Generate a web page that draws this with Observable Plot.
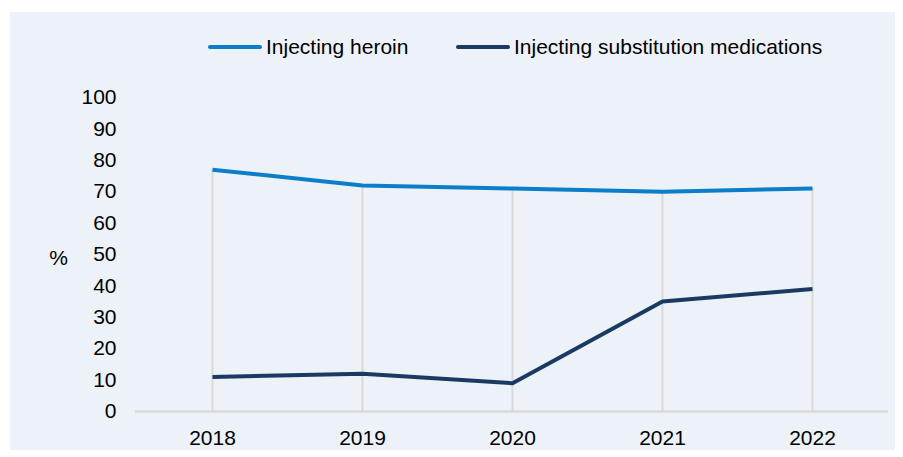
<!DOCTYPE html>
<html><head><meta charset="utf-8">
<script src="https://cdn.jsdelivr.net/npm/d3@7"></script>
<script src="https://cdn.jsdelivr.net/npm/@observablehq/plot@0.6"></script>
<style>
body{margin:0;background:#fff;font-family:"Liberation Sans",Arial,sans-serif;}
#panel{position:absolute;left:10px;top:12px;width:885px;height:438px;background:#edf1f8;}
#legend{position:absolute;left:0;top:0;width:885px;height:70px;}
.item{position:absolute;top:23px;height:24px;display:flex;align-items:center;font-size:21px;color:#000;white-space:nowrap;}
.sw{width:54px;height:4px;border-radius:2px;margin-right:4px;}
#chart{position:absolute;left:0;top:70px;}
</style></head><body>
<div id="panel"><div id="legend"></div><div id="chart"></div></div>
<script>
const years = ["2018", "2019", "2020", "2021", "2022"];
const heroin = [77, 72, 71, 70, 71];
const substitution = [11, 12, 9, 35, 39];
const seriesNames = ["Injecting heroin", "Injecting substitution medications"];
const seriesColors = ["#0a7ec8", "#1a3a63"];
const yTicks = [0, 10, 20, 30, 40, 50, 60, 70, 80, 90, 100];
const yLabel = "%";

const rows = years.flatMap((yr, i) => [
  {year: yr, value: heroin[i], series: seriesNames[0]},
  {year: yr, value: substitution[i], series: seriesNames[1]}
]);
const drops = years.map((yr, i) => ({year: yr, top: Math.max(heroin[i], substitution[i])}));

// legend
const legend = document.getElementById("legend");
const legendLefts = [198, 446];
seriesNames.forEach((name, i) => {
  const it = document.createElement("div");
  it.className = "item";
  it.style.left = legendLefts[i] + "px";
  const sw = document.createElement("span");
  sw.className = "sw";
  sw.style.background = seriesColors[i];
  const tx = document.createElement("span");
  tx.textContent = name;
  it.appendChild(sw); it.appendChild(tx);
  legend.appendChild(it);
});

const chart = Plot.plot({
  width: 885,
  height: 368,
  marginLeft: 125,
  marginRight: 7,
  marginTop: 15,
  marginBottom: 39,
  style: {background: "transparent", fontFamily: "'Liberation Sans', Arial, sans-serif", fontSize: "21px", color: "#000"},
  x: {type: "point", domain: years, padding: 0.5, label: null, tickSize: 0, tickPadding: 19},
  y: {domain: [0, 100], ticks: yTicks, label: null, tickSize: 0, tickPadding: 19},
  color: {domain: seriesNames, range: seriesColors},
  marks: [
    Plot.ruleX(drops, {x: "year", y1: 0, y2: "top", stroke: "#d9d9d9", strokeWidth: 2}),
    Plot.ruleY([0], {stroke: "#d9d9d9", strokeWidth: 2.5}),
    Plot.line(rows, {x: "year", y: "value", z: "series", stroke: "series", strokeWidth: 4, strokeLinecap: "butt", strokeLinejoin: "round"}),
    Plot.text([yLabel], {frameAnchor: "left", dx: -77, dy: 4, textAnchor: "middle", fontSize: 21, fill: "#000"})
  ]
});
document.getElementById("chart").appendChild(chart);
</script>
</body></html>
